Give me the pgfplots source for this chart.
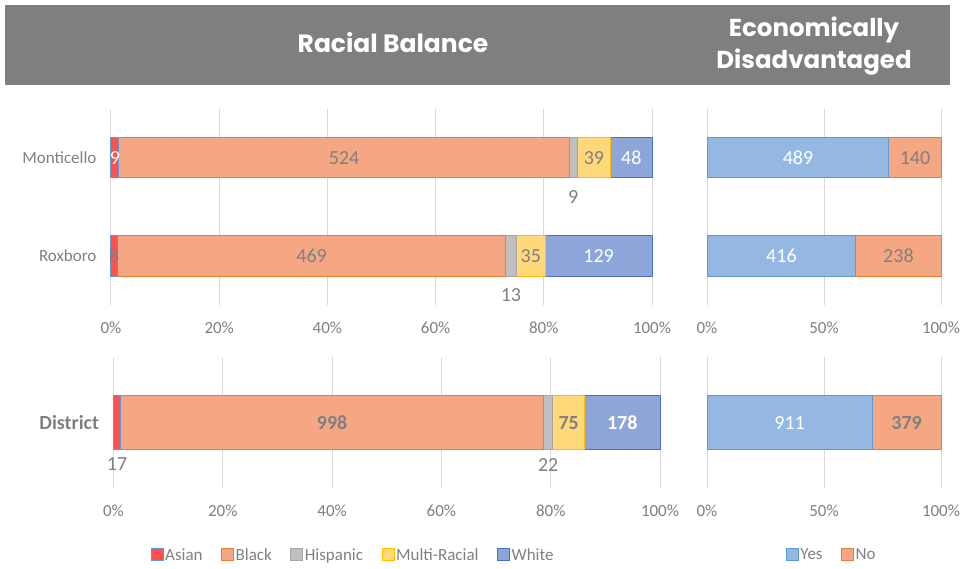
\documentclass[border=0pt]{standalone}
\usepackage{pgfplots}
\pgfplotsset{compat=1.18}
\usepackage{pgfplotstable}
\usepackage{fontspec}
\setmainfont{Carlito}
\newfontfamily\hdrfont{Poppins}
\definecolor{hdrgray}{HTML}{7F7F7F}
\definecolor{labgray}{HTML}{808080}
\definecolor{gridgray}{HTML}{D9D9D9}
\definecolor{asianF}{HTML}{FF4F4F}
\definecolor{asianE}{HTML}{5B9BD5}
\definecolor{blackF}{HTML}{F5A783}
\definecolor{blackE}{HTML}{ED7D31}
\definecolor{hispF}{HTML}{BFBFBF}
\definecolor{hispE}{HTML}{A5A5A5}
\definecolor{multiF}{HTML}{FFD87A}
\definecolor{multiE}{HTML}{FFC000}
\definecolor{whiteF}{HTML}{8EA5DA}
\definecolor{whiteE}{HTML}{4472C4}
\definecolor{yesF}{HTML}{95B8E3}
\definecolor{yesE}{HTML}{5B9BD5}

\pgfplotstableread{
y asian black hisp multi white tot alab
0 8 469 13 35 129 654 8
1 9 524 9 39 48 629 {\textcolor{white}{9}}
}\schools
\pgfplotstableread{
y yes no tot
0 416 238 654
1 489 140 629
}\schoolsecon
\pgfplotstableread{
y asian black hisp multi white tot
0 17 998 22 75 178 1290
}\district
\pgfplotstableread{
y yes no tot
0 911 379 1290
}\districtecon

\newcommand\tickfont{\fontsize{17}{20}\selectfont}
\newcommand\lblfont{\fontsize{20}{24}\selectfont}

\pgfplotsset{
  base/.style={
    scale only axis, xbar stacked, xmin=0, xmax=100, clip=false,
    /pgf/number format/assume math mode=true,
    axis line style={draw=none}, major tick length=0pt,
    xmajorgrids, grid style={draw=gridgray, line width=1pt},
    tick label style={font=\tickfont, text=labgray},
    xticklabel={\pgfmathprintnumber[assume math mode=true]{\tick}\%},
    xticklabel style={yshift=-13pt},
    yticklabel style={xshift=-11pt},
    legend image code/.code={\draw[#1, line width=1pt] (0pt,-6pt) rectangle (12pt,6pt);},
    legend style={draw=none, fill=none, font=\tickfont, text=labgray, legend columns=-1,
      nodes={inner sep=1.5pt},
      /tikz/every even column/.append style={column sep=17pt}},
  },
  seg/.style n args={3}{
    fill=#2, draw=#3, line width=1pt,
    nodes near coords, point meta=explicit,
    nodes near coords style={anchor=center, font=\lblfont, text=labgray},
  },
}

\begin{document}
\begin{tikzpicture}[x=1pt,y=1pt]
\path[use as bounding box] (0,0) rectangle (961,-569);
\fill[hdrgray] (5,-5) rectangle (950,-85);
\node[text=white, font=\hdrfont\bfseries\fontsize{25}{32}\selectfont] at (393,-43) {Racial Balance};
\node[text=white, align=center, font=\hdrfont\bfseries\fontsize{24.5}{32}\selectfont] at (814,-46) {Economically\\Disadvantaged};

% ---- top left: racial balance by school
\begin{axis}[base, at={(111pt,-305pt)}, anchor=south west,
  width=541pt, height=196pt, ymin=-0.5, ymax=1.5, bar width=40pt,
  ytick={0,1}, yticklabels={Roxboro,Monticello}, xtick={0,20,...,100}]
\addplot[seg={asian}{asianF}{asianE}, point meta=explicit symbolic]
  table[x expr=\thisrow{asian}/\thisrow{tot}*100, y=y, meta=alab] {\schools};
\addplot[seg={black}{blackF}{blackE}]
  table[x expr=\thisrow{black}/\thisrow{tot}*100, y=y, meta=black] {\schools};
\addplot[seg={hisp}{hispF}{hispE}, nodes near coords style={yshift=-39pt}]
  table[x expr=\thisrow{hisp}/\thisrow{tot}*100, y=y, meta=hisp] {\schools};
\addplot[seg={multi}{multiF}{multiE}]
  table[x expr=\thisrow{multi}/\thisrow{tot}*100, y=y, meta=multi] {\schools};
\addplot[seg={white}{whiteF}{whiteE}, nodes near coords style={text=white}]
  table[x expr=\thisrow{white}/\thisrow{tot}*100, y=y, meta=white] {\schools};
\end{axis}

% ---- top right: economically disadvantaged by school
\begin{axis}[base, at={(707pt,-305pt)}, anchor=south west,
  width=234pt, height=196pt, ymin=-0.5, ymax=1.5, bar width=40pt,
  ytick=\empty, xtick={0,50,100}]
\addplot[seg={yes}{yesF}{yesE}, nodes near coords style={text=white}]
  table[x expr=\thisrow{yes}/\thisrow{tot}*100, y=y, meta=yes] {\schoolsecon};
\addplot[seg={no}{blackF}{blackE}]
  table[x expr=\thisrow{no}/\thisrow{tot}*100, y=y, meta=no] {\schoolsecon};
\end{axis}

% ---- bottom left: district racial balance
\begin{axis}[base, at={(113.5pt,-488pt)}, anchor=south west,
  width=546.5pt, height=131pt, ymin=-0.65, ymax=0.66, bar width=54pt,
  ytick={0}, yticklabels={District}, xtick={0,20,...,100},
  yticklabel style={font=\bfseries\lblfont},
  legend style={at={(0.438,-0.511)}, anchor=center}]
\addplot[seg={asian}{asianF}{asianE}, nodes near coords style={yshift=-41pt}]
  table[x expr=\thisrow{asian}/\thisrow{tot}*100, y=y, meta=asian] {\district};
\addplot[seg={black}{blackF}{blackE}, nodes near coords style={font=\bfseries\lblfont}]
  table[x expr=\thisrow{black}/\thisrow{tot}*100, y=y, meta=black] {\district};
\addplot[seg={hisp}{hispF}{hispE}, nodes near coords style={yshift=-42pt}]
  table[x expr=\thisrow{hisp}/\thisrow{tot}*100, y=y, meta=hisp] {\district};
\addplot[seg={multi}{multiF}{multiE}, nodes near coords style={font=\bfseries\lblfont}]
  table[x expr=\thisrow{multi}/\thisrow{tot}*100, y=y, meta=multi] {\district};
\addplot[seg={white}{whiteF}{whiteE}, nodes near coords style={text=white, font=\bfseries\lblfont}]
  table[x expr=\thisrow{white}/\thisrow{tot}*100, y=y, meta=white] {\district};
\legend{Asian,Black,Hispanic,Multi-Racial,White}
\end{axis}

% ---- bottom right: district economically disadvantaged
\begin{axis}[base, at={(707pt,-488pt)}, anchor=south west,
  width=234pt, height=131pt, ymin=-0.65, ymax=0.66, bar width=54pt,
  ytick=\empty, xtick={0,50,100},
  legend style={at={(0.532,-0.511)}, anchor=center}]
\addplot[seg={yes}{yesF}{yesE}, nodes near coords style={text=white}]
  table[x expr=\thisrow{yes}/\thisrow{tot}*100, y=y, meta=yes] {\districtecon};
\addplot[seg={no}{blackF}{blackE}, nodes near coords style={font=\bfseries\lblfont}]
  table[x expr=\thisrow{no}/\thisrow{tot}*100, y=y, meta=no] {\districtecon};
\legend{Yes,No}
\end{axis}
\end{tikzpicture}
\end{document}
